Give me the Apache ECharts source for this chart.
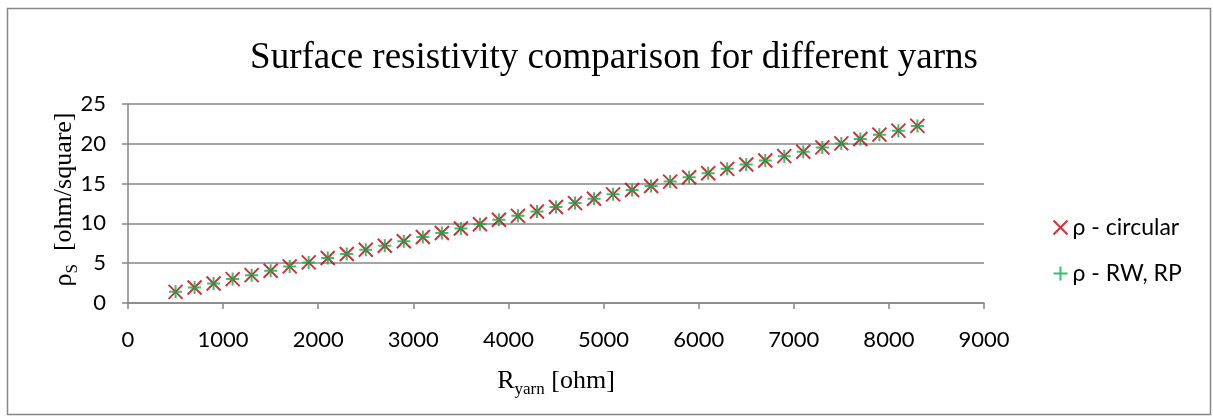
<!DOCTYPE html>
<html>
<head>
<meta charset="utf-8">
<script src="https://cdn.jsdelivr.net/npm/echarts@6/dist/echarts.min.js"></script>
<style>
  html, body { margin: 0; padding: 0; background: #fff; }
  #chart { width: 1213px; height: 418px; }
</style>
</head>
<body>
<div id="chart"></div>
<script>
// R_yarn [ohm]
var rYarn = [500, 700, 900, 1100, 1300, 1500, 1700, 1900, 2100, 2300,
    2500, 2700, 2900, 3100, 3300, 3500, 3700, 3900, 4100, 4300,
    4500, 4700, 4900, 5100, 5300, 5500, 5700, 5900, 6100, 6300,
    6500, 6700, 6900, 7100, 7300, 7500, 7700, 7900, 8100, 8300]
// surface resistivity
var rhoCircular = [1.4, 1.95, 2.45, 3.0, 3.5, 4.05, 4.6, 5.1, 5.65, 6.15,
    6.7, 7.2, 7.75, 8.3, 8.8, 9.35, 9.9, 10.45, 10.95, 11.5,
    12.05, 12.55, 13.1, 13.65, 14.2, 14.7, 15.25, 15.8, 16.3, 16.85,
    17.4, 17.9, 18.45, 19.0, 19.55, 20.05, 20.6, 21.15, 21.65, 22.25]
var rhoRwRp = [1.4, 1.95, 2.45, 3.0, 3.5, 4.05, 4.6, 5.1, 5.65, 6.15,
    6.7, 7.2, 7.75, 8.3, 8.8, 9.35, 9.9, 10.45, 10.95, 11.5,
    12.05, 12.55, 13.1, 13.65, 14.2, 14.7, 15.25, 15.8, 16.3, 16.85,
    17.4, 17.9, 18.45, 19.0, 19.55, 20.05, 20.6, 21.15, 21.65, 22.25]
var seriesNames = ['ρ - circular', 'ρ - RW, RP']

var gridColor = '#868686'
var sans = 'Lato'
var serif = 'Liberation Serif'

function pairs (xs, ys) {
    return xs.map(function (x, i) { return [x, ys[i]] })
}

var chart = echarts.init(document.getElementById('chart'))
chart.setOption({
    backgroundColor: '#fff',
    animation: false,
    graphic: [{
        // chart border
        type: 'rect',
        left: 5,
        top: 6,
        shape: { width: 1203, height: 406 },
        style: { fill: 'none', stroke: gridColor, lineWidth: 1.5 }
    }],
    title: {
        text: 'Surface resistivity comparison for different yarns',
        left: 609,
        top: 35,
        textAlign: 'center',
        textStyle: { fontFamily: serif, fontWeight: 'normal', fontSize: 37, color: '#000' }
    },
    legend: {
        orient: 'vertical',
        left: 1046,
        top: 211,
        itemGap: 23,
        itemWidth: 14,
        itemHeight: 14,
        textStyle: { fontFamily: sans, fontSize: 23, color: '#000' },
        data: seriesNames
    },
    grid: {
        left: 128,
        right: 229,
        top: 104,
        bottom: 115
    },
    xAxis: {
        type: 'value',
        min: 0,
        max: 9000,
        interval: 1000,
        name: '{m|R}{s|yarn}{m| [ohm]}',
        nameLocation: 'middle',
        nameGap: 62,
        nameMoveOverlap: false,
        nameTextStyle: {
            rich: {
                m: { fontFamily: serif, fontSize: 26, color: '#000' },
                s: { fontFamily: serif, fontSize: 17, color: '#000', padding: [16, 0, 0, 0] }
            }
        },
        axisLine: { lineStyle: { color: gridColor, width: 1.5 } },
        axisTick: { show: true, length: 6, lineStyle: { color: gridColor, width: 1.5 } },
        axisLabel: {
            fontFamily: sans, fontSize: 22, color: '#000', margin: 26,
            formatter: function (v) { return String(v) }
        },
        splitLine: { show: false }
    },
    yAxis: {
        type: 'value',
        min: 0,
        max: 25,
        interval: 5,
        name: '{m|ρ}{s|S}{m|  [ohm/square]}',
        nameLocation: 'middle',
        nameGap: 47,
        nameMoveOverlap: false,
        nameTextStyle: {
            padding: [0, 0, 0, 8],
            rich: {
                m: { fontFamily: serif, fontSize: 26, color: '#000' },
                s: { fontFamily: serif, fontSize: 17, color: '#000', padding: [16, 0, 0, 0] }
            }
        },
        axisLine: { show: true, lineStyle: { color: gridColor, width: 1.5 } },
        axisTick: { show: true, length: 6, lineStyle: { color: gridColor, width: 1.5 } },
        axisLabel: { fontFamily: sans, fontSize: 22, color: '#000', margin: 22 },
        splitLine: { lineStyle: { color: gridColor, width: 1.5 } }
    },
    series: [
        {
            name: seriesNames[0],
            type: 'scatter',
            symbol: 'path://M0,0L10,10M10,0L0,10',
            symbolSize: 14,
            itemStyle: { color: 'none', borderColor: '#C00000', borderWidth: 2 },
            data: pairs(rYarn, rhoCircular)
        },
        {
            name: seriesNames[1],
            type: 'scatter',
            symbol: 'path://M5,0L5,10M0,5L10,5',
            symbolSize: 13,
            itemStyle: { color: 'none', borderColor: '#00B050', borderWidth: 2 },
            data: pairs(rYarn, rhoRwRp)
        }
    ]
})
</script>
</body>
</html>
